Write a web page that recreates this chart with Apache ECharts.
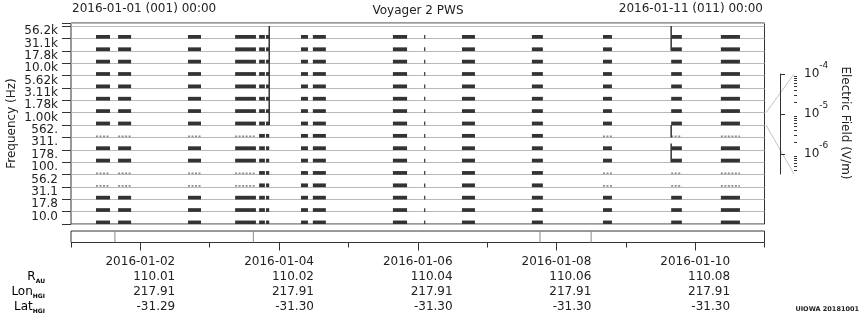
<!DOCTYPE html>
<html><head><meta charset="utf-8">
<script src="https://cdn.jsdelivr.net/npm/echarts@6/dist/echarts.min.js"></script>
<style>html,body{margin:0;padding:0;background:#fff}#c{width:860px;height:320px}</style>
</head><body><div id="c"></div>
<script>
// ---- data (hours since 2016-01-01 00:00) ----
const channelLabels = ['10.0','17.8','31.1','56.2','100.','178.','311.','562.','1.00k','1.78k','3.11k','5.62k','10.0k','17.8k','31.1k','56.2k'];
const intervalStartHours = [8.65, 16.3, 40.5, 56.8, 65.1, 67.5, 79.6, 83.7, 111.4, 122.2, 135.3, 159.5, 184.1, 207.7, 224.9];
const intervalEndHours   = [13.5, 20.8, 45.0, 64.0, 67.1, 68.6, 82.0, 88.2, 116.3, 122.5, 139.8, 163.3, 187.2, 211.4, 231.5];
const faintChannelsByInterval = [[3,4,7],[3,4,7],[3,4,7],[3,4,7],[],[],[],[],[],[],[],[],[3,4,7],[3,4,7],[3,4,7]];
const spikeHours = [68.6, 207.7, 207.7, 207.7];
const spikeChannels = [8, 14, 7, 5];
const spikeTops = [16, 16, 8, 6.5];
const stripMarkHours = [15.2, 63.1, 162.3, 180.0];
const dayTickHours = [0, 24, 48, 72, 96, 120, 144, 168, 192, 216, 240];
const dateTickHours = [24, 72, 120, 168, 216];
const dateLabels = ['2016-01-02','2016-01-04','2016-01-06','2016-01-08','2016-01-10'];
const rAU = ['110.01','110.02','110.04','110.06','110.08'];
const lonHGI = ['217.91','217.91','217.91','217.91','217.91'];
const latHGI = ['-31.29','-31.30','-31.30','-31.30','-31.30'];
const fieldExponents = [-6, -5, -4];
const fieldMin = -6.5, fieldMax = -4;

const FONT = 'DejaVu Sans';
const TXT = '#222';

const dashData = [];
intervalStartHours.forEach((s, i) => {
  for (let c = 0; c < channelLabels.length; c++) {
    dashData.push([s, intervalEndHours[i], c, faintChannelsByInterval[i].includes(c) ? 0 : 1]);
  }
});
const spikeData = spikeHours.map((h, i) => [h, spikeChannels[i], spikeTops[i]]);
const stripData = stripMarkHours.map(h => [h, 0]);
const labelPos = channelLabels.map((_, i) => i + 0.6);
const minorField = [];
for (let e = -7; e <= -5; e++) for (let k = 2; k <= 9; k++) {
  const v = Math.log10(k) + e;
  if (v >= fieldMin && v <= fieldMax) minorField.push(v);
}

const chart = echarts.init(document.getElementById('c'), null, {renderer: 'canvas'});

const option = {
  animation: false,
  backgroundColor: '#fff',
  textStyle: {fontFamily: FONT},
  grid: [
    {left: 71, top: 23, width: 693.5, height: 201, show: true, borderColor: '#333', borderWidth: 1, backgroundColor: 'transparent', containLabel: false, outerBoundsMode: 'none'},
    {left: 71, top: 231, width: 693.5, height: 11.5, show: true, borderColor: '#333', borderWidth: 1, backgroundColor: 'transparent', containLabel: false, outerBoundsMode: 'none'},
    {left: 780, top: 74, width: 14, height: 100, show: false, containLabel: false, outerBoundsMode: 'none'}
  ],
  xAxis: [
    {gridIndex: 0, type: 'value', min: 0, max: 240, show: false},
    {gridIndex: 1, type: 'value', min: 0, max: 240, position: 'bottom',
      axisLine: {show: false}, splitLine: {show: false},
      axisTick: {show: true, length: 5, customValues: dayTickHours, lineStyle: {color: '#333'}},
      axisLabel: {show: false}},
    {gridIndex: 1, type: 'value', min: 0, max: 240, position: 'bottom',
      axisLine: {show: false}, splitLine: {show: false},
      axisTick: {show: true, length: 8, customValues: dateTickHours, lineStyle: {color: '#333'}},
      axisLabel: {show: true, customValues: dateTickHours, margin: 12,
        formatter: (v) => {
          const i = dateTickHours.indexOf(Math.round(v));
          return '{d|' + dateLabels[i] + '}\n{v|' + rAU[i] + '}\n{v|' + lonHGI[i] + '}\n{v|' + latHGI[i] + '}';
        },
        rich: {
          d: {fontSize: 12, fontFamily: FONT, color: TXT, lineHeight: 15, align: 'right'},
          v: {fontSize: 12, fontFamily: FONT, color: TXT, lineHeight: 15, align: 'right'}
        }}},
    {gridIndex: 2, type: 'value', min: 0, max: 1, show: false}
  ],
  yAxis: [
    {gridIndex: 0, type: 'value', min: 0, max: 16.25, interval: 1,
      axisLine: {show: false},
      axisTick: {show: true, length: 9, lineStyle: {color: '#333'}},
      splitLine: {show: true, lineStyle: {color: '#b8b8b8', width: 1}},
      axisLabel: {customValues: labelPos, formatter: (v) => channelLabels[Math.floor(v + 1e-6)],
        margin: 13, fontSize: 12, color: TXT, fontFamily: FONT},
      name: 'Frequency (Hz)', nameLocation: 'middle', nameGap: 53, nameMoveOverlap: false,
      nameTextStyle: {fontSize: 12, color: TXT, fontFamily: FONT}},
    {gridIndex: 1, type: 'value', min: 0, max: 1, show: false},
    {gridIndex: 2, type: 'value', min: fieldMin, max: fieldMax, position: 'right',
      axisLine: {show: true, lineStyle: {color: '#333', width: 1}},
      axisTick: {show: true, length: 5, customValues: fieldExponents, lineStyle: {color: '#333'}},
      splitLine: {show: false},
      axisLabel: {show: true, customValues: fieldExponents, margin: 10,
        formatter: (v) => '{b|10}{p|' + Math.round(v) + '}',
        rich: {
          b: {fontSize: 12, fontFamily: FONT, color: TXT, lineHeight: 26},
          p: {fontSize: 9, fontFamily: FONT, color: TXT, lineHeight: 26, verticalAlign: 'top'}
        }}},
    {gridIndex: 2, type: 'value', min: fieldMin, max: fieldMax, position: 'right',
      axisLine: {show: false}, splitLine: {show: false},
      axisTick: {show: true, length: 3, customValues: minorField, lineStyle: {color: '#333'}},
      axisLabel: {show: false}}
  ],
  series: [
    {type: 'custom', name: 'dashes', coordinateSystem: 'cartesian2d', xAxisIndex: 0, yAxisIndex: 0,
      encode: {x: [0, 1], y: 2}, clip: true, data: dashData,
      renderItem: (params, api) => {
        const t0 = api.value(0), t1 = api.value(1), c = api.value(2), lvl = api.value(3);
        if (lvl === 1) {
          const p0 = api.coord([t0, c + 0.28]);
          const p1 = api.coord([t1, c - 0.02]);
          return {type: 'rect', shape: {x: p0[0], y: p0[1], width: Math.max(p1[0] - p0[0], 1.2), height: p1[1] - p0[1]},
            style: {fill: '#333'}};
        }
        const q0 = api.coord([t0, c + 0.09]);
        const q1 = api.coord([t1, c + 0.09]);
        return {type: 'line', shape: {x1: q0[0], y1: q0[1], x2: q1[0], y2: q1[1]},
          style: {stroke: '#8e8e8e', lineWidth: 1.8, lineDash: [2, 1.5]}};
      }},
    {type: 'custom', name: 'spikes', coordinateSystem: 'cartesian2d', xAxisIndex: 0, yAxisIndex: 0,
      encode: {x: 0, y: [1, 2]}, clip: true, data: spikeData,
      renderItem: (params, api) => {
        const a = api.coord([api.value(0), api.value(1)]);
        const b = api.coord([api.value(0), api.value(2)]);
        return {type: 'line', shape: {x1: a[0], y1: a[1], x2: b[0], y2: b[1]}, style: {stroke: '#333', lineWidth: 1.5}};
      }},
    {type: 'custom', name: 'strip', coordinateSystem: 'cartesian2d', xAxisIndex: 1, yAxisIndex: 1,
      encode: {x: 0, y: 1}, data: stripData,
      renderItem: (params, api) => {
        const a = api.coord([api.value(0), 0]);
        const b = api.coord([api.value(0), 1]);
        return {type: 'line', shape: {x1: a[0], y1: a[1], x2: b[0], y2: b[1]}, style: {stroke: '#888', lineWidth: 1}};
      }}
  ]
};
chart.setOption(option);

// decorations placed from the axes' own scales
const bandTop = chart.convertToPixel({gridIndex: 0}, [240, 9]);
const bandBot = chart.convertToPixel({gridIndex: 0}, [240, 8]);
const scaleTop = chart.convertToPixel({gridIndex: 2}, [1, fieldMax]);
const scaleBot = chart.convertToPixel({gridIndex: 2}, [1, fieldMin]);

const subRich = {
  m: {fontSize: 12, fontFamily: FONT, color: TXT, lineHeight: 14},
  s: {fontSize: 6, fontFamily: FONT, fontWeight: 'bold', color: TXT, lineHeight: 7, verticalAlign: 'bottom'}
};
chart.setOption({
  graphic: [
    {id: 'hl', type: 'text', x: 72, y: 9, style: {text: '2016-01-01 (001) 00:00', fontSize: 12, fontFamily: FONT, fill: TXT, align: 'left', verticalAlign: 'middle'}},
    {id: 'hc', type: 'text', x: 418, y: 11, style: {text: 'Voyager 2 PWS', fontSize: 12, fontFamily: FONT, fill: TXT, align: 'center', verticalAlign: 'middle'}},
    {id: 'hr', type: 'text', x: 763, y: 9, style: {text: '2016-01-11 (011) 00:00', fontSize: 12, fontFamily: FONT, fill: TXT, align: 'right', verticalAlign: 'middle'}},
    {id: 'ef', type: 'text', x: 845, y: 123, rotation: -Math.PI / 2, style: {text: 'Electric Field (V/m)', fontSize: 12, fontFamily: FONT, fill: TXT, align: 'center', verticalAlign: 'middle'}},
    {id: 'r', type: 'text', x: 45, y: 277, style: {text: '{m|R}{s|AU}', rich: subRich, align: 'right', verticalAlign: 'middle'}},
    {id: 'lo', type: 'text', x: 45, y: 292, style: {text: '{m|Lon}{s|HGI}', rich: subRich, align: 'right', verticalAlign: 'middle'}},
    {id: 'la', type: 'text', x: 45, y: 307, style: {text: '{m|Lat}{s|HGI}', rich: subRich, align: 'right', verticalAlign: 'middle'}},
    {id: 'ui', type: 'text', x: 859, y: 309, style: {text: 'UIOWA 20181001', fontSize: 6.5, fontWeight: 'bold', fontFamily: FONT, fill: TXT, align: 'right', verticalAlign: 'middle'}},
    {id: 'c1', type: 'line', shape: {x1: bandTop[0] + 1.5, y1: bandTop[1], x2: scaleTop[0], y2: scaleTop[1]}, style: {stroke: '#c4c4c4', lineWidth: 1}},
    {id: 'c2', type: 'line', shape: {x1: bandBot[0] + 1.5, y1: bandBot[1], x2: scaleBot[0], y2: scaleBot[1]}, style: {stroke: '#c4c4c4', lineWidth: 1}}
  ]
});
</script>
</body></html>
